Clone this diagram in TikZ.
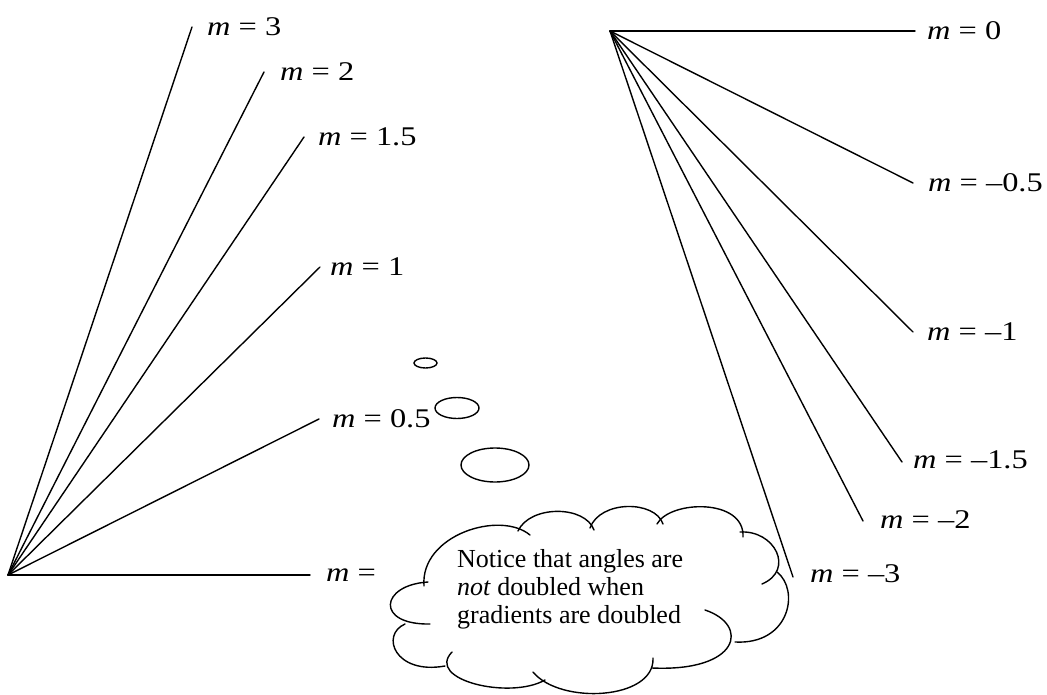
\documentclass[tikz,border=0pt]{standalone}
\usepackage{fontspec}
\setmainfont{Liberation Serif}
\newfontfamily\labfont[FakeStretch=1.2]{Liberation Serif}
\tikzset{
  ray/.style={line width=1.4pt, line cap=round},
  lab/.style={anchor=west, inner sep=0pt, font=\labfont\fontsize{27}{30}\selectfont},
  note/.style={anchor=base west, inner sep=0pt, font=\fontsize{26}{28}\selectfont},
  puff/.style={line width=1.4pt, line cap=round},
}
\begin{document}
\begin{tikzpicture}[x=1pt,y=-1pt]
\useasboundingbox (0,0) rectangle (1047,695);
% left fan
\coordinate (L) at (8,575);
\coordinate (la) at (192,27);
\coordinate (lb) at (264,72);
\coordinate (lc) at (304,137);
\coordinate (ld) at (320,267);
\coordinate (le) at (319,419);
\coordinate (lf) at (310,575);
\foreach \e in {la,lb,lc,ld,le,lf} \draw[ray] (L) -- (\e);
\node[lab] (tla) at (207,27) {\textit{m} = 3};
\node[lab] (tlb) at (280,72) {\textit{m} = 2};
\node[lab] (tlc) at (318,137) {\textit{m} = 1.5};
\node[lab] (tld) at (330,267) {\textit{m} = 1};
\node[lab] (tle) at (332,419) {\textit{m} = 0.5};
\node[lab] (tlf) at (326,575) {\textit{m} =};
% right fan
\coordinate (R) at (610,31);
\coordinate (ra) at (915,31);
\coordinate (rb) at (913,183);
\coordinate (rc) at (913,332);
\coordinate (rd) at (902,462);
\coordinate (re) at (863,521);
\coordinate (rf) at (793,577);
\foreach \e in {ra,rb,rc,rd,re,rf} \draw[ray] (R) -- (\e);
\node[lab] (tra) at (927,31) {\textit{m} = 0};
\node[lab] (trb) at (928,183) {\textit{m} = –0.5};
\node[lab] (trc) at (927,332) {\textit{m} = –1};
\node[lab] (trd) at (913,460) {\textit{m} = –1.5};
\node[lab] (tre) at (880,520) {\textit{m} = –2};
\node[lab] (trf) at (810,574) {\textit{m} = –3};
% thought bubbles
\draw[puff] (425.5,363) ellipse [x radius=11.5, y radius=5];
\draw[puff] (457,408) ellipse [x radius=22, y radius=10.5];
\draw[puff] (495,465) ellipse [x radius=34, y radius=17];
% cloud lobes
\draw[puff] (424,586) .. controls (420,535) and (500,510) .. (530,535);
\draw[puff] (518,531) .. controls (530,505) and (585,505) .. (594,530);
\draw[puff] (590,528) .. controls (600,500) and (655,500) .. (663,524);
\draw[puff] (657,524) .. controls (670,500) and (745,498) .. (743,537);
\draw[puff] (740,532) .. controls (775,530) and (795,570) .. (762,584);
\draw[puff] (777,572) .. controls (800,590) and (790,645) .. (735,642);
\draw[puff] (705,610) .. controls (750,625) and (740,672) .. (652,668);
\draw[puff] (653,658) .. controls (655,700) and (560,705) .. (533,672);
\draw[puff] (452,652) .. controls (425,680) and (510,700) .. (545,680);
\draw[puff] (405,624) .. controls (380,635) and (395,675) .. (445,666);
\draw[puff] (428,582) .. controls (380,585) and (375,625) .. (430,624);
% cloud text
\node[note] (n1) at (457,567) {Notice that angles are};
\node[note] (n2) at (457,595) {\textit{not} doubled when};
\node[note] (n3) at (457,623) {gradients are doubled};
\end{tikzpicture}
\end{document}
